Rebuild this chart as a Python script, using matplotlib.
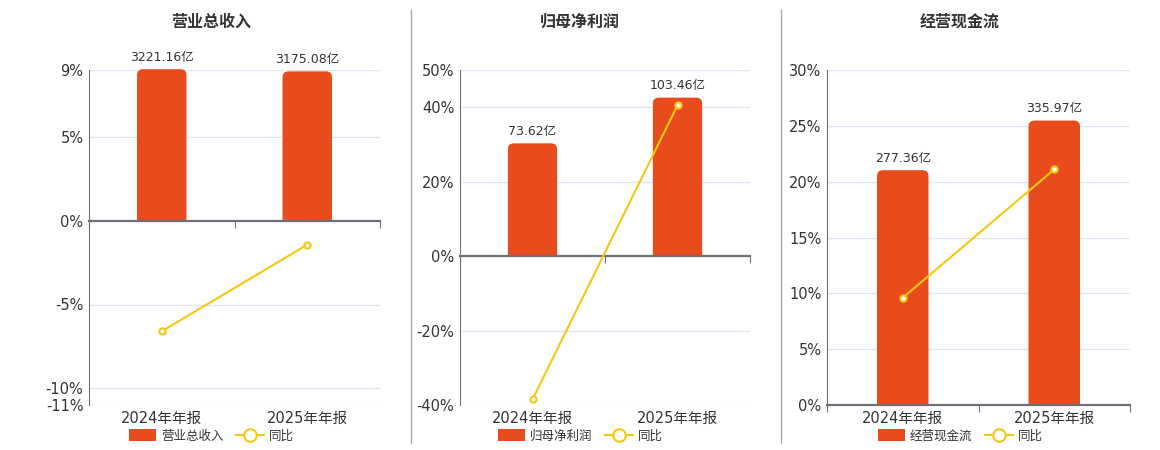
import matplotlib
matplotlib.use("Agg")
import matplotlib.pyplot as plt
from matplotlib.patches import FancyBboxPatch, Rectangle
from matplotlib.lines import Line2D
from matplotlib.patches import Patch

plt.rcParams['font.family'] = ['DejaVu Sans', 'Noto Sans CJK SC']

periods = ["2024年年报", "2025年年报"]

titles = ["营业总收入", "归母净利润", "经营现金流"]
amounts = [
    [3221.16, 3175.08],
    [73.62, 103.46],
    [277.36, 335.97],
]
yoy = [
    [-6.6, -1.43],
    [-38.5, 40.5],
    [9.6, 21.1],
]
pct_ticks = [
    [-11, -10, -5, 0, 5, 9],
    [-40, -20, 0, 20, 40, 50],
    [0, 5, 10, 15, 20, 25, 30],
]

BAR = "#e84c1c"
LINE = "#f2c811"
AXIS = "#6e7079"
GRID = "#e0e6f1"
TXT = "#333333"

W, H = 1160, 450
# panel layout in pixels: axes left, right, plus centre for title/legend
panels = [
    dict(left=89, right=380, centre=211, scale=356.0),
    dict(left=460, right=750, centre=580, scale=2.43),
    dict(left=827, right=1130, centre=960, scale=13.19),
]
top_px, bottom_px = 70, 405

fig = plt.figure(figsize=(W / 100, H / 100), dpi=100)

for i, p in enumerate(panels):
    rect = [p["left"] / W, 1 - bottom_px / H,
            (p["right"] - p["left"]) / W, (bottom_px - top_px) / H]
    ylo, yhi = pct_ticks[i][0], pct_ticks[i][-1]
    s = p["scale"]

    # bar axis (underneath): grid + bars + category labels
    axb = fig.add_axes(rect)
    axb.set_xlim(-0.5, 1.5)
    axb.set_ylim(ylo * s, yhi * s)
    for sp in axb.spines.values():
        sp.set_visible(False)
    axb.set_yticks([t * s for t in pct_ticks[i] if t != 0])
    axb.tick_params(axis="y", length=0, labelleft=False)
    axb.grid(axis="y", color=GRID, linewidth=1)
    axb.set_axisbelow(True)
    axb.set_xticks(range(len(periods)))
    axb.set_xticklabels(periods, fontsize=10.5, color=TXT)
    axb.tick_params(axis="x", length=0, pad=4)

    bars = axb.bar(range(len(periods)), amounts[i], width=0.34, color=BAR)
    # round only the top corners: extend box below zero, then clip at zero
    px_x = 2.0 / (p["right"] - p["left"])
    px_y = (yhi - ylo) * s / (bottom_px - top_px)
    r = 6 * px_x
    ry = 6 * px_y
    for b in bars:
        x0, w, h = b.get_x(), b.get_width(), b.get_height()
        b.set_visible(False)
        fb = FancyBboxPatch((x0, -2 * ry), w, h + 2 * ry,
                            boxstyle=f"round,pad=0,rounding_size={r}",
                            mutation_aspect=px_y / px_x,
                            facecolor=BAR, edgecolor="none", zorder=2)
        axb.add_patch(fb)
        clip = Rectangle((x0 - w, 0), 3 * w, h + 4 * ry, transform=axb.transData)
        fb.set_clip_path(clip)
    for xi, v in enumerate(amounts[i]):
        axb.annotate(f"{v:.2f}亿", (xi, v), xytext=(0, 4),
                     textcoords="offset points", ha="center", va="bottom",
                     fontsize=9, color=TXT, annotation_clip=False)

    # percent axis (on top): left spine, zero line, yoy line
    axp = fig.add_axes(rect)
    axp.patch.set_visible(False)
    axp.set_xlim(-0.5, 1.5)
    axp.set_ylim(ylo, yhi)
    axp.spines["top"].set_visible(False)
    axp.spines["right"].set_visible(False)
    axp.spines["left"].set_color(AXIS)
    axp.spines["bottom"].set_position(("data", 0))
    axp.spines["bottom"].set_color(AXIS)
    axp.spines["bottom"].set_linewidth(1.6)
    axp.set_yticks(pct_ticks[i])
    axp.set_yticklabels([f"{t}%" for t in pct_ticks[i]], fontsize=10.5, color=TXT)
    axp.tick_params(axis="y", length=0, pad=4)
    axp.set_xticks([-0.5, 0.5, 1.5])
    axp.tick_params(axis="x", length=5, color=AXIS, labelbottom=False)
    axp.plot(range(len(periods)), yoy[i], color=LINE, linewidth=1.5,
             marker="o", markersize=4.5, markerfacecolor="white",
             markeredgecolor=LINE, markeredgewidth=1.5, zorder=5, clip_on=False)

    fig.text(p["centre"] / W, 1 - 22 / H, titles[i], ha="center", va="center",
             fontsize=11.5, fontweight="bold", color=TXT)

    handles = [FancyBboxPatch((0, 0), 1, 1, boxstyle="round,pad=0,rounding_size=0.2",
                              facecolor=BAR, edgecolor="none"),
               Line2D([], [], color=LINE, linewidth=1.5, marker="o", markersize=9,
                      markerfacecolor="white", markeredgewidth=1.5)]
    fig.legend(handles, [titles[i], "同比"], loc="center",
               bbox_to_anchor=(p["centre"] / W, 1 - 436 / H), ncol=2,
               frameon=False, fontsize=9, handlelength=2.2, handleheight=1.1,
               columnspacing=1.0, handletextpad=0.4, labelcolor="#333333")

# panel separators
for xs in (410.5, 780.5):
    fig.add_artist(Line2D([xs / W, xs / W], [1 - 10 / H, 1 - 443 / H],
                          color="#aaaaaa", linewidth=1))

fig.savefig("out.png", dpi=100)
